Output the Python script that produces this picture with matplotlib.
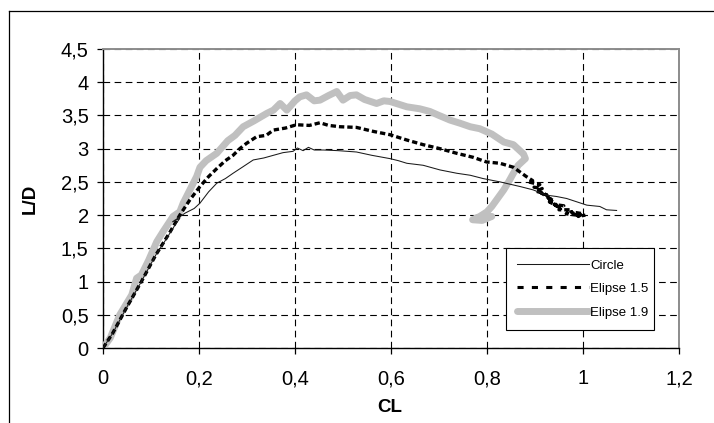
import matplotlib
matplotlib.use("Agg")
import matplotlib.pyplot as plt
from matplotlib.lines import Line2D

plt.rcParams['font.family'] = ['Liberation Sans', 'DejaVu Sans']

# =============================================================================
# DATA
# =============================================================================

circle_cl = [0, 0.02, 0.05, 0.08, 0.11, 0.13, 0.15, 0.16, 0.145, 0.171, 0.19,
             0.202, 0.22, 0.237, 0.255, 0.271, 0.29, 0.313, 0.335, 0.355,
             0.375, 0.396, 0.405, 0.417, 0.428, 0.44, 0.459, 0.49, 0.528,
             0.56, 0.598, 0.615, 0.633, 0.667, 0.702, 0.737, 0.765, 0.792,
             0.827, 0.869, 0.896, 0.924, 0.945, 0.966, 1.008, 1.035, 1.049,
             1.07]
circle_ld = [0, 0.22, 0.62, 1.0, 1.4, 1.62, 1.85, 1.95, 1.9, 2.03, 2.1,
             2.18, 2.35, 2.48, 2.55, 2.63, 2.72, 2.83, 2.86, 2.90,
             2.94, 2.96, 3.01, 2.97, 3.02, 2.98, 2.98, 2.97, 2.95,
             2.90, 2.85, 2.82, 2.78, 2.75, 2.68, 2.63, 2.60, 2.55,
             2.50, 2.43, 2.38, 2.30, 2.28, 2.25, 2.15, 2.13, 2.08,
             2.07]

ell15_cl = [0, 0.02, 0.05, 0.08, 0.11, 0.14, 0.16, 0.181, 0.202, 0.22,
            0.237, 0.255, 0.271, 0.285, 0.299, 0.32, 0.34, 0.355, 0.38,
            0.403, 0.43, 0.452, 0.47, 0.494, 0.528, 0.563, 0.598, 0.633,
            0.667, 0.702, 0.737, 0.771, 0.799, 0.827, 0.855, 0.882, 0.895,
            0.886, 0.91, 0.898, 0.915, 0.902, 0.917, 0.925, 0.912, 0.93,
            0.938, 0.925, 0.945, 0.93, 0.952, 0.94, 0.96, 0.95, 0.973,
            0.965, 0.987, 0.975, 1.0, 0.99, 1.005]
ell15_ld = [0, 0.22, 0.62, 1.0, 1.4, 1.75, 2.0, 2.23, 2.43, 2.58,
            2.70, 2.82, 2.90, 3.0, 3.08, 3.18, 3.20, 3.28, 3.31,
            3.36, 3.35, 3.39, 3.35, 3.33, 3.32, 3.26, 3.21, 3.13,
            3.06, 3.0, 2.93, 2.87, 2.80, 2.78, 2.72, 2.58, 2.52,
            2.50, 2.46, 2.42, 2.40, 2.36, 2.33, 2.30, 2.34, 2.25,
            2.22, 2.27, 2.15, 2.20, 2.11, 2.16, 2.14, 2.08, 2.08,
            2.02, 2.0, 2.05, 2.02, 1.98, 2.0]

ell19_cl = [0, 0.015, 0.035, 0.045, 0.06, 0.07, 0.08, 0.095, 0.112, 0.125,
            0.146, 0.16, 0.167, 0.181, 0.195, 0.202, 0.215, 0.237, 0.26,
            0.275, 0.292, 0.315, 0.341, 0.355, 0.369, 0.383, 0.40, 0.41,
            0.424, 0.44, 0.452, 0.47, 0.487, 0.50, 0.515, 0.528, 0.545,
            0.57, 0.585, 0.598, 0.633, 0.66, 0.681, 0.70, 0.723, 0.745,
            0.765, 0.785, 0.81, 0.835, 0.855, 0.876, 0.88, 0.865, 0.855,
            0.845, 0.835, 0.82, 0.81, 0.80, 0.785, 0.77, 0.79, 0.81, 0.78]
ell19_ld = [0, 0.15, 0.5, 0.62, 0.8, 1.05, 1.1, 1.32, 1.6, 1.75,
            1.98, 2.05, 2.18, 2.38, 2.58, 2.72, 2.82, 2.93, 3.12,
            3.2, 3.33, 3.42, 3.53, 3.58, 3.68, 3.58, 3.72, 3.78,
            3.81, 3.72, 3.73, 3.80, 3.86, 3.73, 3.80, 3.81, 3.74,
            3.68, 3.72, 3.71, 3.63, 3.60, 3.56, 3.50, 3.43, 3.38,
            3.33, 3.30, 3.22, 3.10, 3.06, 2.92, 2.85, 2.75, 2.63,
            2.50, 2.38, 2.23, 2.13, 2.05, 1.98, 1.93, 1.92, 1.98, 1.96]

x_ticks = [0, 0.2, 0.4, 0.6, 0.8, 1.0, 1.2]
x_labels = ['0', '0,2', '0,4', '0,6', '0,8', '1', '1,2']
y_ticks = [0, 0.5, 1, 1.5, 2, 2.5, 3, 3.5, 4, 4.5]
y_labels = ['0', '0,5', '1', '1,5', '2', '2,5', '3', '3,5', '4', '4,5']

# =============================================================================
# PLOT
# =============================================================================

fig = plt.figure(figsize=(7.14, 4.23), dpi=100)
ax = fig.add_axes([103 / 714, 1 - 348 / 423, 576 / 714, 299 / 423])

# outer chart frame (cropped at right and bottom)
fig.add_artist(Line2D([8.5 / 714, 8.5 / 714], [0, 1 - 11.5 / 423],
                      transform=fig.transFigure, color='black', lw=0.9))
fig.add_artist(Line2D([8.5 / 714, 1], [1 - 11.5 / 423, 1 - 11.5 / 423],
                      transform=fig.transFigure, color='black', lw=0.9))

ax.plot(ell19_cl, ell19_ld, color='#c0c0c0', lw=5.0, solid_capstyle='round',
        solid_joinstyle='round', zorder=3)
ax.plot(ell15_cl, ell15_ld, color='black', lw=2.4, linestyle=(0, (1.6, 0.9)),
        zorder=4)
ax.plot(circle_cl, circle_ld, color='#1a1a1a', lw=0.75, zorder=5)

ax.set_xlim(0, 1.2)
ax.set_ylim(0, 4.5)
ax.set_xticks(x_ticks)
ax.set_xticklabels(x_labels)
ax.set_yticks(y_ticks)
ax.set_yticklabels(y_labels)
ax.tick_params(axis='both', direction='out', length=4.3, width=0.9,
               labelsize=14.5, colors='black')
ax.tick_params(axis='y', pad=6)
ax.tick_params(axis='x', pad=11)

ax.grid(True, color='black', linestyle=(0, (6, 4)), lw=0.8)
ax.set_axisbelow(True)

for side in ['left', 'bottom']:
    ax.spines[side].set_color('black')
    ax.spines[side].set_linewidth(1.0)
for side in ['top', 'right']:
    ax.spines[side].set_color('#8c8c8c')
    ax.spines[side].set_linewidth(1.4)

fig.text(30 / 714, 1 - 199 / 423, 'L/D', rotation=90, ha='center', va='center',
         fontsize=13.5, fontweight='bold')
fig.text(390 / 714, 1 - 407 / 423, 'CL', ha='center', va='center',
         fontsize=13.5, fontweight='bold')

handles = [
    Line2D([], [], color='#1a1a1a', lw=0.75),
    Line2D([], [], color='black', lw=2.2, linestyle=(0, (2, 2.7))),
    Line2D([], [], color='#c0c0c0', lw=5.0, solid_capstyle='round'),
]
labels = ['Circle', 'Elipse 1.5', 'Elipse 1.9']
leg = ax.legend(handles, labels, loc='lower left',
                bbox_to_anchor=(499 / 714, 1 - 337 / 423, 162 / 714, 86 / 423),
                bbox_transform=fig.transFigure, mode='expand',
                fontsize=9.5, handlelength=5.4, handletextpad=0.1,
                labelspacing=0.85, borderpad=0.9, fancybox=False,
                framealpha=1, edgecolor='black')
leg.get_frame().set_linewidth(0.8)
leg.set_zorder(10)

fig.savefig('out.png', dpi=100)
